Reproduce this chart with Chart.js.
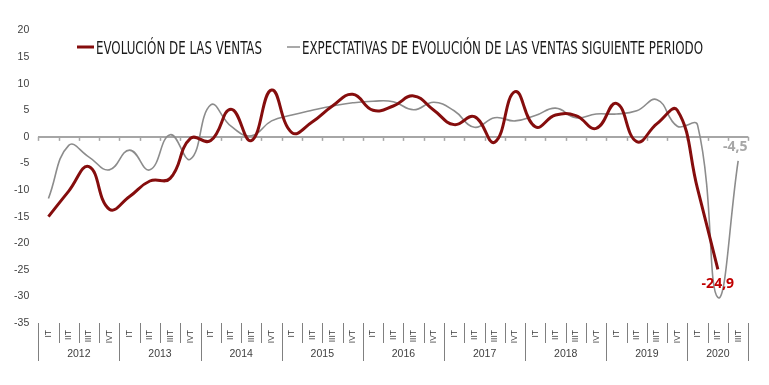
<!DOCTYPE html>
<html><head><meta charset="utf-8">
<script src="https://cdn.jsdelivr.net/npm/chart.js@4.4.1/dist/chart.umd.min.js"></script>
<style>html,body{margin:0;padding:0;background:#fff}#wrap{width:769px;height:385px}</style>
</head><body><div id="wrap"><canvas id="c" width="769" height="385"></canvas></div>
<script>
// ---- data ----
const quarters = [
  'IT','IIT','IIIT','IVT', 'IT','IIT','IIIT','IVT', 'IT','IIT','IIIT','IVT',
  'IT','IIT','IIIT','IVT', 'IT','IIT','IIIT','IVT', 'IT','IIT','IIIT','IVT',
  'IT','IIT','IIIT','IVT', 'IT','IIT','IIIT','IVT', 'IT','IIT','IIIT'
];
const years = ['2012','2013','2014','2015','2016','2017','2018','2019','2020'];
const quartersPerYear = [4,4,4,4,4,4,4,4,3];
const seriesNames = ['EVOLUCIÓN DE LAS VENTAS', 'EXPECTATIVAS DE EVOLUCIÓN DE LAS VENTAS SIGUIENTE PERIODO'];
const ventas = [
  -15.0, -10.2, -5.6, -13.6,
  -11.2, -8.3, -7.8, -0.3,
  -0.7, 5.2, -0.7, 8.8,
  0.8, 2.8, 5.8, 8.0,
  5.0, 5.8, 7.7, 5.0,
  2.3, 3.8, -1.0, 8.5,
  1.9, 4.1, 4.0, 1.6,
  6.3, -0.9, 2.5, 5.0,
  -9.8, -24.9
];
const expectativas = [
  -11.6, -1.6, -3.8, -6.2,
  -2.5, -6.2, 0.4, -4.2,
  6.0, 2.0, 0.2, 3.0,
  4.1, 5.0, 5.8, 6.4,
  6.7, 6.6, 5.1, 6.5,
  4.9, 1.8, 3.6, 3.0,
  4.0, 5.4, 3.6, 4.3,
  4.3, 4.9, 7.0, 2.0,
  2.2, -30.2, -4.5
];
const yMin = -35, yMax = 20, yStep = 5;

const RED = '#850d0d', GRAY = '#8c8c8c';

function fmt(v){ return v.toFixed(1).replace('.', ','); }

// zero-line tick marks
const zeroTicks = {
  id: 'zeroTicks',
  beforeDatasetsDraw(chart){
    const xs = chart.scales.x, ys = chart.scales.y, ctx = chart.ctx;
    const y0 = ys.getPixelForValue(0);
    const half = (xs.getPixelForValue(1) - xs.getPixelForValue(0)) / 2;
    ctx.save();
    ctx.strokeStyle = '#a6a6a6'; ctx.lineWidth = 1.5;
    for (let i = 0; i <= quarters.length; i++){
      const x = Math.round(xs.getPixelForValue(0) - half + i * 2 * half) + 0.5;
      ctx.beginPath(); ctx.moveTo(x, y0); ctx.lineTo(x, y0 + 4); ctx.stroke();
    }
    ctx.restore();
  }
};

// bottom category separators and year labels
const yearAxis = {
  id: 'yearAxis',
  afterDraw(chart){
    const xs = chart.scales.x, ctx = chart.ctx;
    const top = chart.chartArea.bottom;
    const half = (xs.getPixelForValue(1) - xs.getPixelForValue(0)) / 2;
    ctx.save();
    ctx.strokeStyle = '#808080'; ctx.lineWidth = 1;
    for (let i = 0; i <= quarters.length; i++){
      const x = Math.round(xs.getPixelForValue(0) - half + i * 2 * half) + 0.5;
      ctx.beginPath(); ctx.moveTo(x, top); ctx.lineTo(x, top + 20); ctx.stroke();
    }
    let idx = 0;
    ctx.fillStyle = '#404040';
    ctx.font = '10.5px "Liberation Sans", Arial, sans-serif';
    ctx.textAlign = 'center'; ctx.textBaseline = 'middle';
    for (let k = 0; k <= years.length; k++){
      const x = Math.round(xs.getPixelForValue(0) - half + idx * 2 * half) + 0.5;
      ctx.beginPath(); ctx.moveTo(x, top); ctx.lineTo(x, top + 38); ctx.stroke();
      if (k < years.length){
        const xc = xs.getPixelForValue(0) - half + (idx + quartersPerYear[k] / 2) * 2 * half;
        ctx.fillText(years[k], xc, top + 31);
        idx += quartersPerYear[k];
      }
    }
    ctx.restore();
  }
};

// end-value labels
const endLabels = {
  id: 'endLabels',
  afterDatasetsDraw(chart){
    const ctx = chart.ctx;
    ctx.save();
    ctx.font = 'bold 14px "Open Sans", sans-serif';
    ctx.textAlign = 'center'; ctx.textBaseline = 'middle';
    const m0 = chart.getDatasetMeta(0), m1 = chart.getDatasetMeta(1);
    const p0 = m0.data[ventas.length - 1];
    ctx.fillStyle = '#c00000';
    ctx.fillText(fmt(ventas[ventas.length - 1]), p0.x, p0.y + 15);
    const p1 = m1.data[expectativas.length - 1];
    ctx.fillStyle = '#a6a6a6';
    ctx.fillText(fmt(expectativas[expectativas.length - 1]), p1.x - 3, p1.y - 14);
    ctx.restore();
  }
};

// legend
const legendPlugin = {
  id: 'customLegend',
  afterDraw(chart){
    const ctx = chart.ctx;
    const items = [
      {text: seriesNames[0], color: RED, lw: 3, x0: 77, x1: 94, tx: 96, tw: 166},
      {text: seriesNames[1], color: GRAY, lw: 1.5, x0: 287, x1: 300, tx: 302, tw: 401}
    ];
    const y = 47;
    ctx.save();
    ctx.font = '17px "Liberation Sans Narrow", "DejaVu Sans Condensed", "Roboto Condensed", Roboto, sans-serif';
    ctx.textBaseline = 'middle'; ctx.textAlign = 'left';
    items.forEach(it => {
      ctx.strokeStyle = it.color; ctx.lineWidth = it.lw;
      ctx.beginPath(); ctx.moveTo(it.x0, y); ctx.lineTo(it.x1, y); ctx.stroke();
      const w = ctx.measureText(it.text).width;
      const sx = it.tw / w;
      ctx.save();
      ctx.translate(it.tx, y + 3);
      ctx.scale(sx, 1);
      ctx.fillStyle = '#1a1a1a';
      ctx.fillText(it.text, 0, 0);
      ctx.restore();
    });
    ctx.restore();
  }
};

new Chart(document.getElementById('c'), {
  type: 'line',
  data: {
    labels: quarters,
    datasets: [
      {label: seriesNames[0], data: ventas, borderColor: RED, backgroundColor: RED,
       borderWidth: 3, pointRadius: 0, tension: 0.45, fill: false},
      {label: seriesNames[1], data: expectativas, borderColor: GRAY, backgroundColor: GRAY,
       borderWidth: 1.6, pointRadius: 0, tension: 0.45, fill: false}
    ]
  },
  options: {
    responsive: false,
    animation: false,
    layout: {padding: {left: 0, right: 20.7, top: 30.5, bottom: 32}},
    plugins: {legend: {display: false}, tooltip: {enabled: false}},
    scales: {
      x: {
        type: 'category',
        offset: true,
        grid: {display: false, drawTicks: false},
        border: {display: false},
        ticks: {
          autoSkip: false, minRotation: 90, maxRotation: 90, padding: 7,
          color: '#404040', font: {family: '"Liberation Sans", Arial, sans-serif', size: 8.5}
        },
        afterFit(scale){ scale.height = 30; }
      },
      y: {
        min: yMin, max: yMax,
        grid: {
          drawTicks: false,
          color: ctx => (ctx.tick && ctx.tick.value === 0) ? '#a6a6a6' : 'rgba(0,0,0,0)',
          lineWidth: ctx => (ctx.tick && ctx.tick.value === 0) ? 2 : 0
        },
        border: {display: false},
        ticks: {
          stepSize: yStep, padding: 9, color: '#404040',
          font: {family: '"Liberation Sans", Arial, sans-serif', size: 10.5}
        },
        afterFit(scale){ scale.width = 38.3; }
      }
    }
  },
  plugins: [zeroTicks, yearAxis, endLabels, legendPlugin]
});
</script>
</body></html>
